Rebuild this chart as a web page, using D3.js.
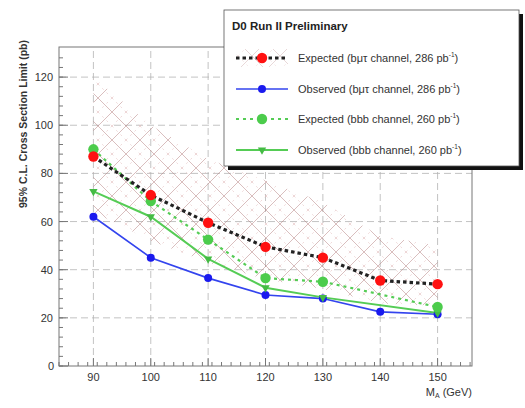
<!DOCTYPE html>
<html>
<head>
<meta charset="utf-8">
<script src="https://cdn.jsdelivr.net/npm/d3@7"></script>
<style>
  body { margin: 0; background: #fff; }
  svg { display: block; font-family: "Liberation Sans", Arial, sans-serif; }
</style>
</head>
<body>
<svg id="chart" width="525" height="408"></svg>
<script>
// masses (GeV)
var masses = [90, 100, 110, 120, 130, 140, 150];
var expBmt = [87, 71, 59.5, 49.5, 45, 35.5, 34];
var obsBmt = [62, 45, 36.5, 29.5, 28, 22.5, 21.5];
var bandHi = [120, 100, 86, 77, 68, 54, 50];
var bandLo = [64, 52, 43, 36, 32, 26, 25];
// bbb channel has no 140 GeV point
var massesBbb = [90, 100, 110, 120, 130, 150];
var expBbb = [90, 68.5, 52.5, 36.5, 35, 24.5];
var obsBbb = [72.5, 62, 44.5, 32.5, 28.5, 22];

var xTicks = [90, 100, 110, 120, 130, 140, 150];
var yTicks = [0, 20, 40, 60, 80, 100, 120];

var legendLabels = [
  ["Expected (b\u03bc\u03c4 channel, 286 pb", "-1", ")"],
  ["Observed (b\u03bc\u03c4 channel, 286 pb", "-1", ")"],
  ["Expected (bbb channel, 260 pb", "-1", ")"],
  ["Observed (bbb channel, 260 pb", "-1", ")"]
];

var marginLeft = 59, marginRight = 53, marginTop = 47, marginBottom = 42;
var width = 525, height = 408;

var x = d3.scaleLinear([84, 156], [marginLeft, width - marginRight]);
var y = d3.scaleLinear([0, 132.5], [height - marginBottom, marginTop]);

var svg = d3.select("#chart");

var defs = svg.append("defs");
var pat = defs.append("pattern")
    .attr("id", "hatch")
    .attr("patternUnits", "userSpaceOnUse")
    .attr("width", 28).attr("height", 28);
pat.append("path").attr("d", "M0,0 L28,28 M0,28 L28,0")
    .attr("stroke", "#b07a7a").attr("stroke-width", 0.7).attr("opacity", 0.7);
pat.append("path").attr("d", "M0,14 L14,28 M14,0 L28,14 M0,14 L14,0 M14,28 L28,14")
    .attr("stroke", "#e2bcbc").attr("stroke-width", 0.6).attr("stroke-dasharray", "2,4");

var x0 = x.range()[0], x1 = x.range()[1], y0 = y.range()[0], y1 = y.range()[1];

// grid
svg.append("g")
  .selectAll("line")
  .data(xTicks)
  .join("line")
    .attr("x1", d => x(d)).attr("x2", d => x(d))
    .attr("y1", y0).attr("y2", y1)
    .attr("stroke", "#b4b4b4").attr("stroke-width", 0.8)
    .attr("stroke-dasharray", "7,4");
svg.append("g")
  .selectAll("line")
  .data(yTicks.slice(1))
  .join("line")
    .attr("x1", x0).attr("x2", x1)
    .attr("y1", d => y(d)).attr("y2", d => y(d))
    .attr("stroke", "#b4b4b4").attr("stroke-width", 0.8)
    .attr("stroke-dasharray", "7,4");

// band
var band = d3.area()
    .x((d, i) => x(masses[i]))
    .y0((d, i) => y(bandLo[i]))
    .y1(d => y(d));
svg.append("path")
    .datum(bandHi)
    .attr("d", band)
    .attr("fill", "url(#hatch)");

// axes frame with inward ticks
var frame = svg.append("g");
frame.append("rect")
    .attr("x", x0).attr("y", y1)
    .attr("width", x1 - x0).attr("height", y0 - y1)
    .attr("fill", "none").attr("stroke", "#777").attr("stroke-width", 1);

var xMinor = d3.range(84, 156.01, 10 / 6);
frame.append("g").selectAll("line").data(xMinor).join("line")
    .attr("x1", d => x(d)).attr("x2", d => x(d))
    .attr("y1", y0).attr("y2", y0 - 4)
    .attr("stroke", "#777");
frame.append("g").selectAll("line").data(xTicks).join("line")
    .attr("x1", d => x(d)).attr("x2", d => x(d))
    .attr("y1", y0).attr("y2", y0 - 8)
    .attr("stroke", "#777");
var yMinor = d3.range(0, 132, 4);
frame.append("g").selectAll("line").data(yMinor).join("line")
    .attr("x1", x0).attr("x2", x0 + 4)
    .attr("y1", d => y(d)).attr("y2", d => y(d))
    .attr("stroke", "#777");
frame.append("g").selectAll("line").data(yTicks).join("line")
    .attr("x1", x0).attr("x2", x0 + 9)
    .attr("y1", d => y(d)).attr("y2", d => y(d))
    .attr("stroke", "#777");

// tick labels
svg.append("g").selectAll("text").data(xTicks).join("text")
    .attr("x", d => x(d)).attr("y", y0 + 15)
    .attr("text-anchor", "middle")
    .attr("font-size", 11).attr("fill", "#333")
    .text(d => d);
svg.append("g").selectAll("text").data(yTicks).join("text")
    .attr("x", d => d === 0 ? x0 - 5 : x0 - 6).attr("y", d => y(d) + 4)
    .attr("text-anchor", "end")
    .attr("font-size", 11).attr("fill", "#333")
    .text(d => d);

// axis titles
svg.append("text")
    .attr("transform", "translate(27," + (y1 - 7) + ") rotate(-90)")
    .attr("text-anchor", "end")
    .attr("font-size", 10.5).attr("font-weight", "bold").attr("fill", "#333")
    .text("95% C.L. Cross Section Limit (pb)");
var xt = svg.append("text")
    .attr("x", x1).attr("y", y0 + 30)
    .attr("text-anchor", "end")
    .attr("font-size", 11).attr("fill", "#333");
xt.append("tspan").text("M");
xt.append("tspan").attr("font-size", 7).attr("dy", 2).text("A");
xt.append("tspan").attr("dy", -2).text(" (GeV)");

// lines
var lineAll = d3.line().x((d, i) => x(masses[i])).y(d => y(d));
var lineBbb = d3.line().x((d, i) => x(massesBbb[i])).y(d => y(d));

svg.append("path").datum(obsBmt).attr("d", lineAll)
    .attr("fill", "none").attr("stroke", "#3344ee").attr("stroke-width", 1.6);
svg.append("path").datum(obsBbb).attr("d", lineBbb)
    .attr("fill", "none").attr("stroke", "#55cc55").attr("stroke-width", 2);
svg.append("path").datum(expBbb).attr("d", lineBbb)
    .attr("fill", "none").attr("stroke", "#55cc55").attr("stroke-width", 2.2)
    .attr("stroke-dasharray", "3,4");
svg.append("path").datum(expBmt).attr("d", lineAll)
    .attr("fill", "none").attr("stroke", "#222").attr("stroke-width", 3.2)
    .attr("stroke-dasharray", "3.5,3");

// markers
svg.append("g").selectAll("circle").data(obsBmt).join("circle")
    .attr("cx", (d, i) => x(masses[i])).attr("cy", d => y(d))
    .attr("r", 4).attr("fill", "#1a1aee");
var tri = d3.symbol().type(d3.symbolTriangle).size(30);
svg.append("g").selectAll("path").data(obsBbb).join("path")
    .attr("transform", (d, i) => "translate(" + x(massesBbb[i]) + "," + y(d) + ") rotate(180)")
    .attr("d", tri).attr("fill", "#44bb44");
svg.append("g").selectAll("circle").data(expBbb).join("circle")
    .attr("cx", (d, i) => x(massesBbb[i])).attr("cy", d => y(d))
    .attr("r", 5.2).attr("fill", "#4ccc4c");
svg.append("g").selectAll("circle").data(expBmt).join("circle")
    .attr("cx", (d, i) => x(masses[i])).attr("cy", d => y(d))
    .attr("r", 5.2).attr("fill", "#ff1111");

// legend
var lg = svg.append("g");
var lx = 224, ly = 10, lw = 295, lh = 156;
lg.append("rect").attr("x", lx + 4).attr("y", ly + 4).attr("width", lw).attr("height", lh)
    .attr("fill", "#111");
lg.append("rect").attr("x", lx).attr("y", ly).attr("width", lw).attr("height", lh)
    .attr("fill", "#fff").attr("stroke", "#555").attr("stroke-width", 0.8);
lg.append("text").attr("x", lx + 8).attr("y", ly + 20)
    .attr("font-size", 11.5).attr("font-weight", "bold").attr("fill", "#222")
    .text("D0 Run II Preliminary");

var rowY = [48, 79, 109, 140];
var sx0 = lx + 12, sx1 = lx + 64, sxm = lx + 38;
// row 0 symbol: hatch + black dotted + red marker
lg.append("rect").attr("x", sx0).attr("y", ly + rowY[0] - 9).attr("width", sx1 - sx0).attr("height", 18)
    .attr("fill", "url(#hatch)").attr("opacity", 0.6);
lg.append("line").attr("x1", sx0).attr("x2", sx1).attr("y1", ly + rowY[0]).attr("y2", ly + rowY[0])
    .attr("stroke", "#222").attr("stroke-width", 3).attr("stroke-dasharray", "3.5,3");
lg.append("circle").attr("cx", sxm).attr("cy", ly + rowY[0]).attr("r", 5.2).attr("fill", "#ff1111");
// row 1
lg.append("line").attr("x1", sx0).attr("x2", sx1).attr("y1", ly + rowY[1]).attr("y2", ly + rowY[1])
    .attr("stroke", "#3344ee").attr("stroke-width", 1.6);
lg.append("circle").attr("cx", sxm).attr("cy", ly + rowY[1]).attr("r", 4).attr("fill", "#1a1aee");
// row 2
lg.append("line").attr("x1", sx0).attr("x2", sx1).attr("y1", ly + rowY[2]).attr("y2", ly + rowY[2])
    .attr("stroke", "#55cc55").attr("stroke-width", 2.2).attr("stroke-dasharray", "3,4");
lg.append("circle").attr("cx", sxm).attr("cy", ly + rowY[2]).attr("r", 5.2).attr("fill", "#4ccc4c");
// row 3
lg.append("line").attr("x1", sx0).attr("x2", sx1).attr("y1", ly + rowY[3]).attr("y2", ly + rowY[3])
    .attr("stroke", "#55cc55").attr("stroke-width", 2);
lg.append("path").attr("transform", "translate(" + sxm + "," + (ly + rowY[3]) + ") rotate(180)")
    .attr("d", tri).attr("fill", "#44bb44");

lg.selectAll("text.entry").data(legendLabels).join("text")
    .attr("class", "entry")
    .attr("x", lx + 74).attr("y", (d, i) => ly + rowY[i] + 4)
    .attr("font-size", 11).attr("fill", "#333")
    .each(function(d) {
      var t = d3.select(this);
      t.append("tspan").text(d[0]);
      t.append("tspan").attr("font-size", 6.5).attr("dy", -5).text(d[1]);
      t.append("tspan").attr("dy", 5).text(d[2]);
    });
</script>
</body>
</html>
